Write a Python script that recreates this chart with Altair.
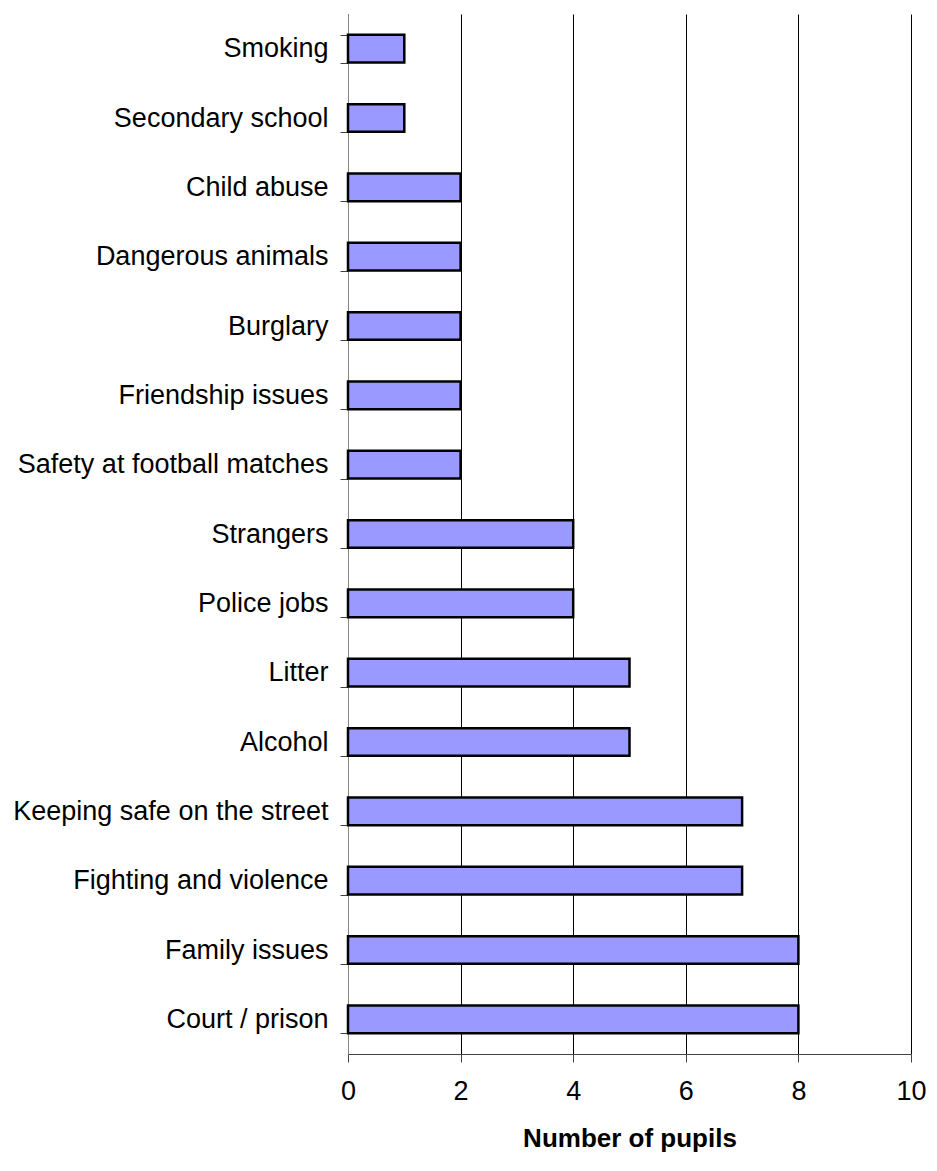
import altair as alt
import pandas as pd

categories = ["Smoking", "Secondary school", "Child abuse", "Dangerous animals", "Burglary",
              "Friendship issues", "Safety at football matches", "Strangers", "Police jobs",
              "Litter", "Alcohol", "Keeping safe on the street", "Fighting and violence",
              "Family issues", "Court / prison"]
values = [1, 1, 2, 2, 2, 2, 2, 4, 4, 5, 5, 7, 7, 8, 8]

df = pd.DataFrame({"topic": categories, "pupils": values})

chart = alt.Chart(df).mark_bar(
    color="#9999FF", stroke="black", strokeWidth=2.5
).encode(
    x=alt.X("pupils:Q", title="Number of pupils",
            scale=alt.Scale(domain=[0, 10], nice=False),
            axis=alt.Axis(values=[0, 2, 4, 6, 8, 10], grid=True, gridColor="#000000",
                          gridWidth=1, domainColor="#444444", tickColor="#444444",
                          tickSize=8, labelFontSize=27, labelPadding=16, labelFlush=False,
                          labelFont="Liberation Sans", labelColor="black",
                          titleFont="Liberation Sans", titleFontSize=26,
                          titleFontWeight="bold", titleColor="black", titlePadding=21)),
    y=alt.Y("topic:N", title=None, sort=categories,
            scale=alt.Scale(paddingInner=0.6, paddingOuter=0.3),
            axis=alt.Axis(tickBand="extent", domainColor="#888888", tickColor="#444444",
                          tickSize=8, labelFontSize=27, labelPadding=12, labelLimit=400,
                          labelFont="Liberation Sans", labelColor="black", grid=False))
).properties(
    width=563, height=1040,
    autosize=alt.AutoSizeParams(type="none"),
    padding={"left": 340, "top": 6, "right": 17, "bottom": 104}
).configure_view(stroke=None)

chart.save("out.html", embed_options={"renderer": "svg", "actions": False})
